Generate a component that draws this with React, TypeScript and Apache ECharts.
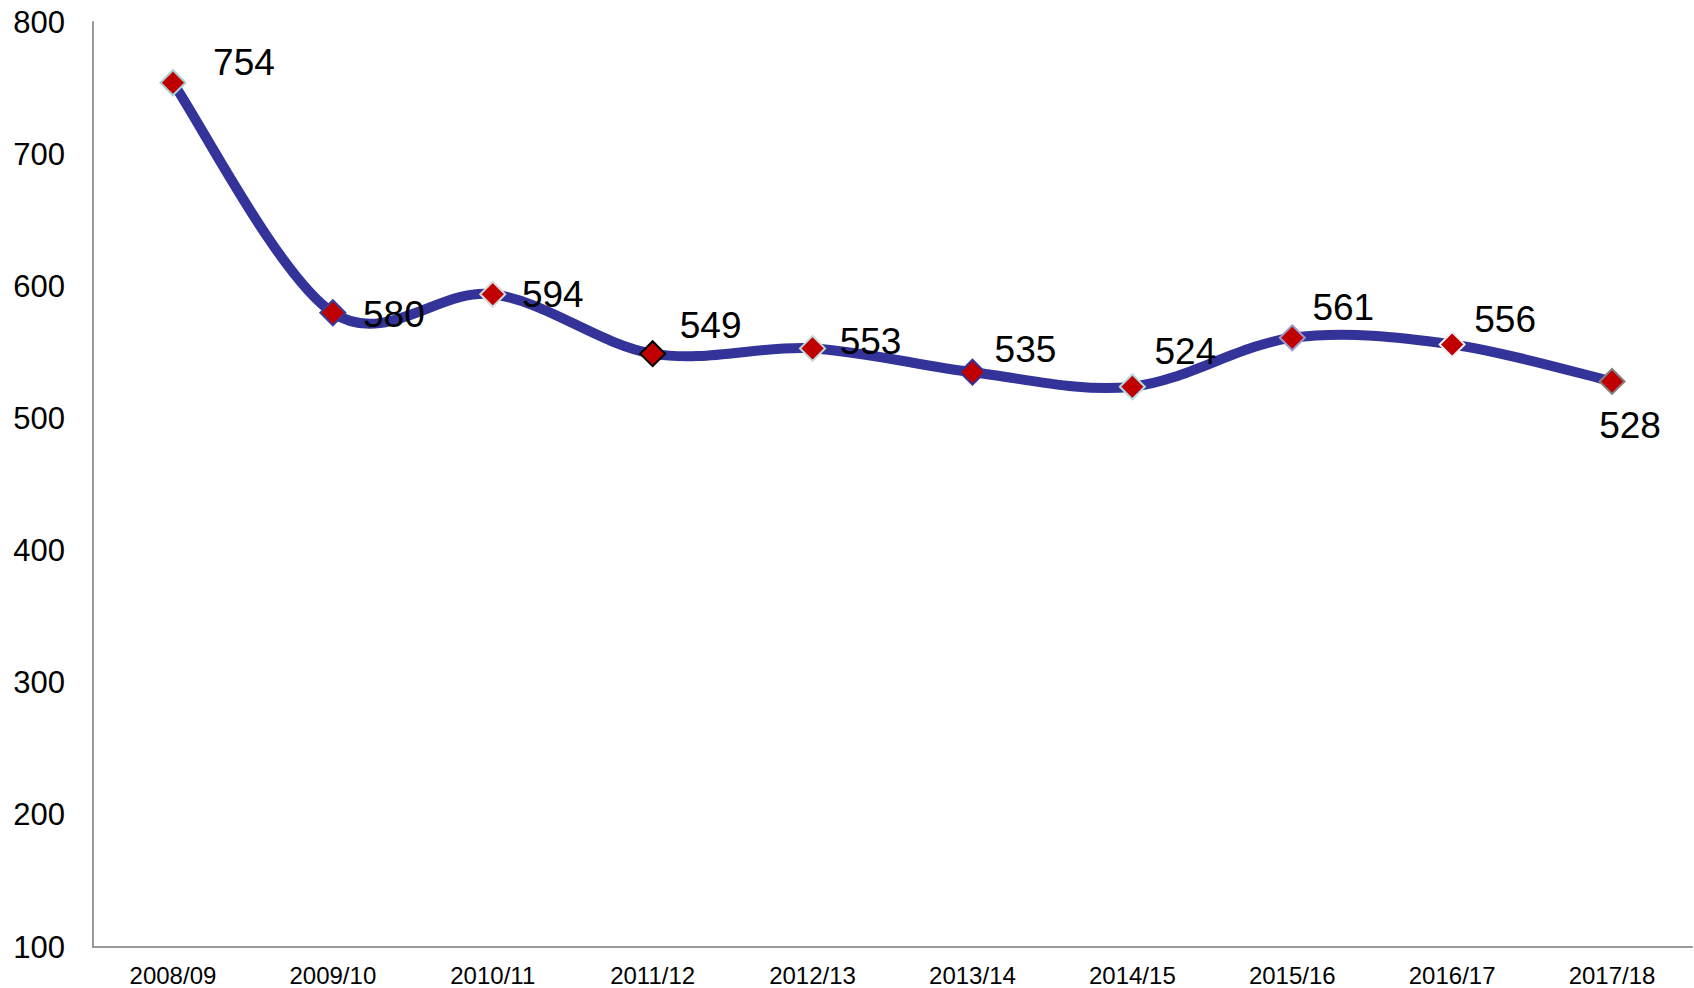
import React, { useEffect, useRef } from "react";
import * as echarts from "echarts";

const categories = ["2008/09", "2009/10", "2010/11", "2011/12", "2012/13", "2013/14", "2014/15", "2015/16", "2016/17", "2017/18"];
const values = [754, 580, 594, 549, 553, 535, 524, 561, 556, 528];
const yTicks = { min: 100, max: 800, interval: 100 };

const markerBorders = ["#a8cfd2", "#3a3a9c", "#d8d8d8", "#000000", "#c2dcdc", "#333399", "#b4dde2", "#9a9acc", "#eeeeee", "#808080"];
const labelOffsets: [number, number][] = [
  [71, -20], [61, 2], [60, 0], [58, -28], [58, -7], [53, -23], [53, -35], [51, -30], [53, -25], [18, 44],
];

export default function App() {
  const ref = useRef<HTMLDivElement>(null);
  useEffect(() => {
    if (!ref.current) return;
    const chart = echarts.init(ref.current, undefined, { renderer: "svg" });
    const font = "'Liberation Sans', Arial, sans-serif";
    chart.setOption({
      animation: false,
      backgroundColor: "#ffffff",
      grid: { left: 93, right: 2, top: 22, bottom: 41, containLabel: false },
      xAxis: {
        type: "category",
        data: categories,
        boundaryGap: true,
        axisLine: { lineStyle: { color: "#999999", width: 2 } },
        axisTick: { show: false },
        axisLabel: { color: "#000000", fontSize: 24, fontFamily: font, margin: 16 },
      },
      yAxis: {
        type: "value",
        min: yTicks.min,
        max: yTicks.max,
        interval: yTicks.interval,
        axisLine: { show: true, lineStyle: { color: "#999999", width: 2 } },
        axisTick: { show: false },
        splitLine: { show: false },
        axisLabel: { color: "#000000", fontSize: 31, fontFamily: font, margin: 28 },
      },
      series: [
        {
          type: "custom",
          data: values.map((v, i) => [i, v]),
          z: 2,
          renderItem: (params: any, api: any) => {
            if (params.dataIndex !== 0) return null;
            const pts = values.map((v, k) => api.coord([k, v]));
            const n = pts.length;
            let d = `M${pts[0][0]},${pts[0][1]}`;
            for (let k = 0; k < n - 1; k++) {
              const p0 = pts[Math.max(0, k - 1)];
              const p1 = pts[k];
              const p2 = pts[k + 1];
              const p3 = pts[Math.min(n - 1, k + 2)];
              const c1x = p1[0] + (p2[0] - p0[0]) / 6;
              const c1y = p1[1] + (p2[1] - p0[1]) / 6;
              const c2x = p2[0] - (p3[0] - p1[0]) / 6;
              const c2y = p2[1] - (p3[1] - p1[1]) / 6;
              d += ` C${c1x},${c1y} ${c2x},${c2y} ${p2[0]},${p2[1]}`;
            }
            return {
              type: "path",
              shape: { pathData: d },
              style: { fill: "none", stroke: "#333399", lineWidth: 10, lineCap: "round", lineJoin: "round" },
            };
          },
        },
        {
          type: "scatter",
          z: 3,
          data: values.map((v, i) => ({
            value: [i, v],
            itemStyle: { color: "#c00000", borderColor: markerBorders[i], borderWidth: 2, opacity: 1 },
            label: { offset: labelOffsets[i] },
          })),
          symbol: "diamond",
          symbolSize: 25,
          itemStyle: { opacity: 1 },
          label: {
            show: true,
            position: "inside",
            color: "#000000",
            opacity: 1,
            fontSize: 37,
            fontFamily: font,
            formatter: (p: any) => String(p.value[1]),
          },
        },
      ],
    });
    return () => chart.dispose();
  }, []);
  return <div ref={ref} style={{ position: "absolute", left: 0, top: 0, width: 1694, height: 988 }} />;
}
